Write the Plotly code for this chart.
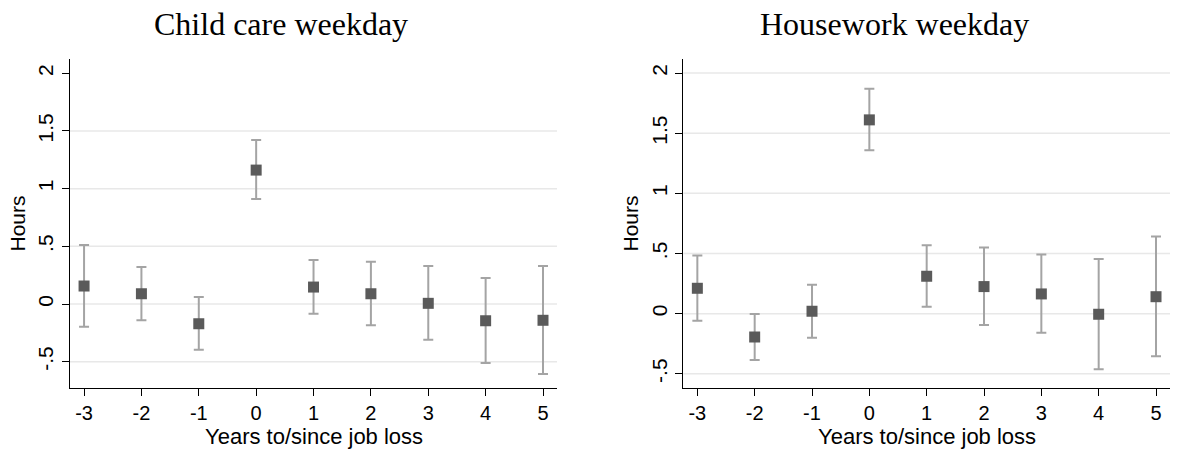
import plotly.graph_objects as go

years = [-3, -2, -1, 0, 1, 2, 3, 4, 5]
year_text = ["-3", "-2", "-1", "0", "1", "2", "3", "4", "5"]

# Child care weekday
cc_est = [0.156, 0.089, -0.171, 1.161, 0.147, 0.089, 0.006, -0.145, -0.141]
cc_hi = [0.511, 0.321, 0.061, 1.421, 0.381, 0.367, 0.329, 0.225, 0.329]
cc_lo = [-0.197, -0.141, -0.396, 0.910, -0.084, -0.185, -0.309, -0.511, -0.607]

# Housework weekday
hw_est = [0.211, -0.194, 0.020, 1.611, 0.311, 0.225, 0.164, -0.005, 0.141]
hw_hi = [0.483, -0.003, 0.241, 1.869, 0.569, 0.549, 0.491, 0.455, 0.641]
hw_lo = [-0.058, -0.385, -0.200, 1.359, 0.058, -0.094, -0.158, -0.463, -0.355]

ytick_vals = [-0.5, 0, 0.5, 1, 1.5, 2]
ytick_text = ["-.5", "0", ".5", "1", "1.5", "2"]
grid_left = [-0.5, 0, 0.5, 1, 1.5]
grid_right = [-0.5, 0, 0.5, 1, 1.5, 2]

titles = ["Child care weekday", "Housework weekday"]
xtitle = "Years to/since job loss"
ytitle = "Hours"

MARKER = "#5a5a5a"
ERR = "#a4a4a4"
GRID = "#e8e8e8"
SANS = "Liberation Sans, Arial, sans-serif"
SERIF = "Liberation Serif, Times New Roman, serif"

fig = go.Figure()

def add_panel(est, hi, lo, xa, ya):
    fig.add_trace(go.Scatter(
        x=years, y=est, mode="markers",
        marker=dict(symbol="square", size=11, color=MARKER),
        error_y=dict(type="data", symmetric=False,
                     array=[h - e for h, e in zip(hi, est)],
                     arrayminus=[e - l for e, l in zip(est, lo)],
                     color=ERR, thickness=2, width=5),
        xaxis=xa, yaxis=ya, showlegend=False, cliponaxis=False))

add_panel(cc_est, cc_hi, cc_lo, "x", "y")
add_panel(hw_est, hw_hi, hw_lo, "x2", "y2")

W, H = 1177, 450
ml, mr, mt, mb = 70, 7, 59, 62
pw = W - ml - mr
ph = H - mt - mb

def px_x(p):
    return (p - ml) / pw

def px_y(p):
    return 1 - (p - mt) / ph

common_x = dict(range=[-3.245, 5.244], tickvals=years, ticktext=year_text,
                showgrid=False, zeroline=False,
                showline=True, linecolor="black", linewidth=1.3, ticks="outside",
                ticklen=7, tickwidth=1.3, tickcolor="black",
                tickfont=dict(family=SANS, size=20, color="black"))
common_y = dict(tickvals=ytick_vals, ticktext=ytick_text, showgrid=False, zeroline=False,
                showline=True, linecolor="black", linewidth=1.3, ticks="outside",
                ticklen=7, tickwidth=1.3, tickcolor="black", tickangle=-90,
                tickfont=dict(family=SANS, size=21, color="black"))

fig.update_layout(
    width=W, height=H, margin=dict(l=ml, r=mr, t=mt, b=mb),
    paper_bgcolor="white", plot_bgcolor="white",
    xaxis=dict(domain=[0, px_x(557)], anchor="y", **common_x),
    yaxis=dict(domain=[0, 1], anchor="x", range=[-0.728, 2.124], **common_y),
    xaxis2=dict(domain=[px_x(683.3), 1], anchor="y2", **common_x),
    yaxis2=dict(domain=[0, 1], anchor="x2", range=[-0.618, 2.117], **common_y),
)

shapes = []
for g in grid_left:
    shapes.append(dict(type="line", xref="x domain", yref="y", x0=0, x1=1, y0=g, y1=g,
                       line=dict(color=GRID, width=1.5), layer="below"))
for g in grid_right:
    shapes.append(dict(type="line", xref="x2 domain", yref="y2", x0=0, x1=1, y0=g, y1=g,
                       line=dict(color=GRID, width=1.5), layer="below"))
fig.update_layout(shapes=shapes)

ann = []
for t, cx in zip(titles, [281, 894]):
    ann.append(dict(text=t, xref="paper", yref="paper", x=px_x(cx), y=px_y(24),
                    xanchor="center", yanchor="middle", showarrow=False,
                    font=dict(family=SERIF, size=32, color="black")))
for cx in [313.5, 926.7]:
    ann.append(dict(text=xtitle, xref="paper", yref="paper", x=px_x(cx), y=px_y(436),
                    xanchor="center", yanchor="middle", showarrow=False,
                    font=dict(family=SANS, size=22, color="black")))
for cx in [17, 630]:
    ann.append(dict(text=ytitle, xref="paper", yref="paper", x=px_x(cx), y=px_y(223.5),
                    xanchor="center", yanchor="middle", showarrow=False, textangle=-90,
                    font=dict(family=SANS, size=21, color="black")))
fig.update_layout(annotations=ann)

fig.write_html("out.html", config={"displayModeBar": False},
               post_script="document.body.style.margin='0';")
